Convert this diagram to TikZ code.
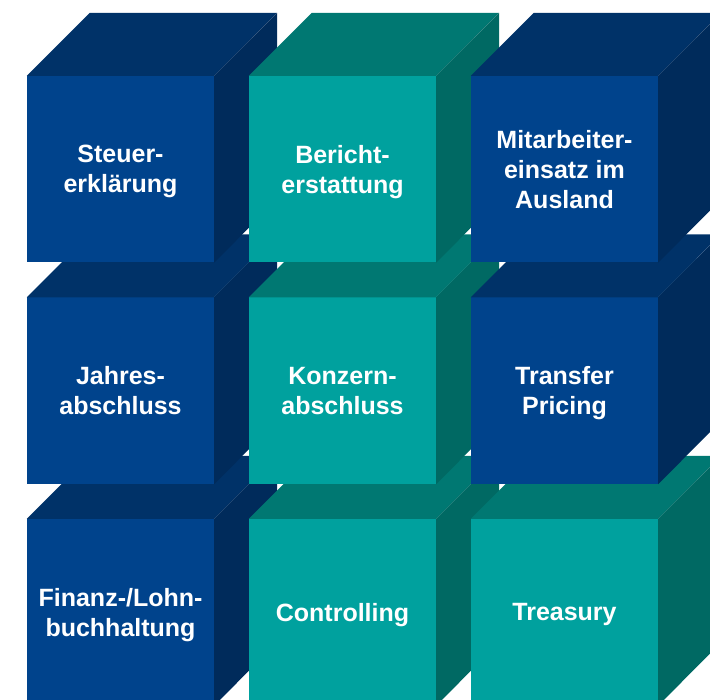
\documentclass[tikz,border=0pt]{standalone}
\usepackage{fontspec}
\setsansfont{Liberation Sans}
\usepackage{tikz}

\definecolor{kblue}{HTML}{00438C}
\definecolor{kbluetop}{HTML}{003268}
\definecolor{kblueside}{HTML}{002B5B}
\definecolor{kteal}{HTML}{00A19E}
\definecolor{ktealtop}{HTML}{007872}
\definecolor{ktealside}{HTML}{006963}

\tikzset{
	front/.style={
		minimum width=187pt,
		minimum height=186.5pt,
		inner sep=0pt,
		text depth=-2pt,
		text=white,
		align=center,
		font=\sffamily\bfseries\fontsize{25}{30}\selectfont
	}
}

% one cube: name, x, y, colour, text
\newcommand{\wuerfel}[5]{%
	\node[front, fill=#4] (#1) at (#2,#3) {#5};
	\fill[#4top] (#1.north west) -- ++(63,63) -- ++(187,0) -- (#1.north east) -- cycle;
	\fill[#4side] (#1.north east) -- ++(63,63) -- ++(0,-186.5) -- (#1.south east) -- cycle;
}

\begin{document}
\begin{tikzpicture}[x=1pt, y=1pt]
	\clip (0,0) rectangle (710,700);
	% bottom row first, so the rows above cover its top faces
	\wuerfel{finanz}{120.5}{87.75}{kblue}{Finanz-/Lohn-\\buchhaltung}
	\wuerfel{controlling}{342.5}{87.75}{kteal}{Controlling}
	\wuerfel{treasury}{564.5}{87.75}{kteal}{Treasury}
	\wuerfel{jahres}{120.5}{309.25}{kblue}{Jahres-\\abschluss}
	\wuerfel{konzern}{342.5}{309.25}{kteal}{Konzern-\\abschluss}
	\wuerfel{transfer}{564.5}{309.25}{kblue}{Transfer\\Pricing}
	\wuerfel{steuer}{120.5}{530.75}{kblue}{Steuer-\\erklärung}
	\wuerfel{bericht}{342.5}{530.75}{kteal}{Bericht-\\erstattung}
	\wuerfel{mitarbeiter}{564.5}{530.75}{kblue}{Mitarbeiter-\\einsatz im\\Ausland}
\end{tikzpicture}
\end{document}
